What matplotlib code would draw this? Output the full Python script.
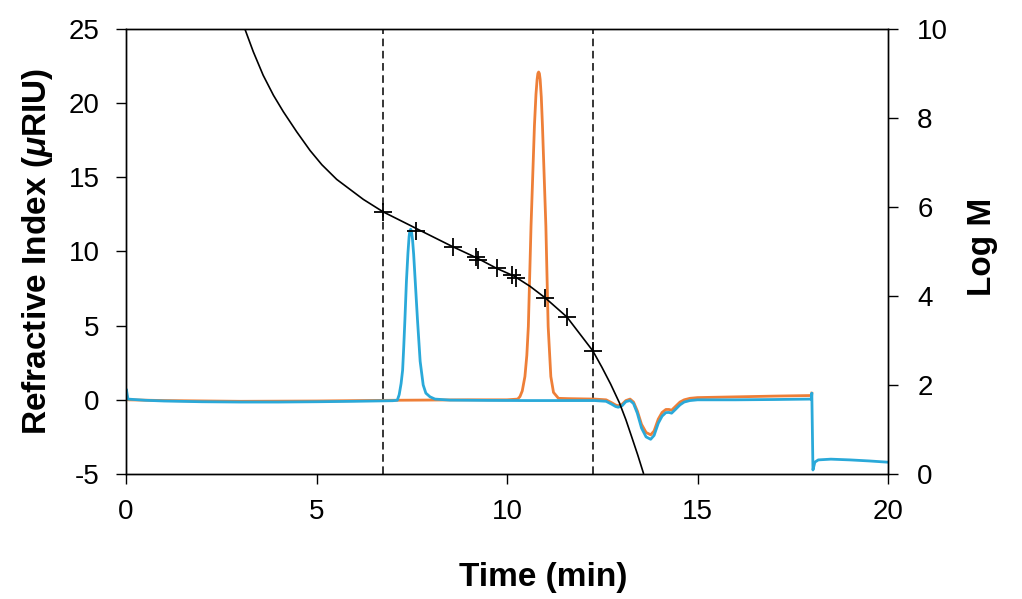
import numpy as np
import matplotlib
matplotlib.use("Agg")
import matplotlib.pyplot as plt

plt.rcParams['font.family'] = ['Liberation Sans', 'DejaVu Sans']
plt.rcParams['mathtext.fontset'] = 'custom'
plt.rcParams['mathtext.it'] = 'Liberation Sans:italic:bold'
plt.rcParams['mathtext.rm'] = 'Liberation Sans:bold'
plt.rcParams['axes.unicode_minus'] = False

# %% data

# RI trace, sample 1 (blue)
blue_t = [0.0, 0.01, 0.05, 0.5, 1.0, 2.0, 3.0, 4.0, 5.0, 6.0, 7.0, 7.12,
          7.17, 7.22, 7.26, 7.29, 7.32, 7.36, 7.40, 7.43, 7.45, 7.47, 7.49,
          7.52, 7.55, 7.60, 7.65, 7.72, 7.80, 7.87, 7.98, 8.11, 8.5, 9.5,
          10.5, 11.5, 12.3, 12.6, 12.75, 12.85, 12.92, 13.02, 13.12, 13.23,
          13.32, 13.42, 13.53, 13.65, 13.77, 13.86, 13.97, 14.07, 14.17,
          14.25, 14.32, 14.42, 14.54, 14.65, 14.8, 15.0, 16.0, 17.0, 17.99,
          18.0, 18.03, 18.08, 18.17, 18.5, 19.0, 19.5, 19.97]
blue_ri = [0.6, 0.7, 0.05, -0.03, -0.08, -0.13, -0.15, -0.15, -0.13, -0.1,
           -0.06, -0.03, 0.35, 1.1, 2.0, 3.6, 5.4, 8.0, 9.9, 11.0, 11.4, 11.5,
           11.4, 10.8, 9.8, 7.6, 5.4, 2.6, 1.0, 0.45, 0.2, 0.05, -0.02, -0.04,
           -0.05, -0.05, -0.05, -0.1, -0.3, -0.45, -0.5, -0.4, -0.12, -0.05,
           -0.25, -0.9, -1.9, -2.5, -2.66, -2.4, -1.58, -1.1, -0.86, -0.85,
           -0.9, -0.65, -0.34, -0.15, -0.05, 0.0, 0.0, 0.02, 0.05, 0.45,
           -4.73, -4.2, -4.05, -4.0, -4.05, -4.12, -4.2]

# RI trace, sample 2 (orange)
orange_t = [0.0, 0.05, 1.0, 3.0, 5.0, 7.0, 9.0, 10.0, 10.28, 10.34, 10.40,
            10.47, 10.52, 10.56, 10.63, 10.72, 10.76, 10.79, 10.81, 10.83,
            10.85, 10.87, 10.90, 10.93, 11.02, 11.08, 11.15, 11.22, 11.35,
            11.6, 12.3, 12.6, 12.75, 12.85, 12.92, 13.02, 13.12, 13.23, 13.32,
            13.42, 13.53, 13.65, 13.77, 13.86, 13.97, 14.07, 14.17, 14.25,
            14.32, 14.42, 14.54, 14.65, 14.8, 15.0, 16.0, 17.0, 17.99, 18.0]
orange_ri = [0.5, 0.0, -0.05, -0.1, -0.08, -0.03, 0.0, 0.0, 0.05, 0.22,
             0.6, 1.57, 3.0, 4.95, 11.7, 18.5, 20.6, 21.6, 22.0, 22.1, 22.0,
             21.6, 20.4, 18.5, 11.7, 4.95, 1.57, 0.5, 0.1, 0.08, 0.05, 0.0,
             -0.2, -0.35, -0.4, -0.3, -0.05, 0.05, -0.15, -0.75, -1.65, -2.2,
             -2.36, -2.1, -1.3, -0.85, -0.65, -0.65, -0.7, -0.45, -0.15, 0.0,
             0.1, 0.15, 0.2, 0.25, 0.29, 0.45]

# calibration standards (log M vs time)
cal_t = [6.75, 7.61, 8.57, 9.19, 9.25, 9.73, 10.12, 10.24, 11.0, 11.57, 12.25]
cal_logm = [5.89, 5.47, 5.11, 4.87, 4.82, 4.62, 4.48, 4.41, 3.96, 3.53, 2.77]

# calibration fit curve
fit_t = [3.12, 3.34, 3.60, 3.87, 4.13, 4.48, 4.83, 5.14, 5.53, 6.23, 6.75,
         7.45, 7.61, 8.57, 9.22, 9.73, 10.18, 10.6, 11.0, 11.57, 12.25, 12.49,
         12.72, 12.95, 13.12, 13.27, 13.43, 13.58]
fit_logm = [10.0, 9.49, 8.96, 8.51, 8.14, 7.69, 7.27, 6.95, 6.62, 6.17,
            5.89, 5.59, 5.52, 5.11, 4.85, 4.62, 4.45, 4.22, 3.96, 3.53, 2.77,
            2.40, 2.02, 1.60, 1.22, 0.84, 0.43, 0.02]

# calibration limits
cutoffs = [6.75, 12.25]

# %% plot

blue = "#2aa9d9"
orange = "#ee7f38"

fig = plt.figure(figsize=(10.22, 5.99), dpi=100)
ax = fig.add_axes([0.1233, 0.2087, 0.7456, 0.7429])
ax2 = ax.twinx()

for c in cutoffs:
    ax.axvline(c, color="black", lw=1.1, ls=(0, (5, 3)))

ax.plot(orange_t, orange_ri, color=orange, lw=2.0)
ax.plot(blue_t, blue_ri, color=blue, lw=2.0)

ax2.plot(fit_t, fit_logm, color="black", lw=1.2)
ax2.plot(cal_t, cal_logm, ls="none", marker="+", color="black",
         markersize=13, markeredgewidth=1.3)

ax.set_xlim(0, 20)
ax.set_ylim(-5, 25)
ax2.set_ylim(0, 10)
ax.set_xticks([0, 5, 10, 15, 20])
ax.set_yticks([-5, 0, 5, 10, 15, 20, 25])
ax2.set_yticks([0, 2, 4, 6, 8, 10])

for a in (ax, ax2):
    for s in a.spines.values():
        s.set_linewidth(1.0)

ax.tick_params(axis="x", direction="out", length=7, width=1.0, labelsize=20, pad=11)
ax.tick_params(axis="y", direction="out", length=7, width=1.0, labelsize=20, pad=12)
ax2.tick_params(axis="y", direction="out", length=7, width=1.0, labelsize=20, pad=14)

ax.set_xlabel("Time (min)", fontsize=24, fontweight="bold")
ax.xaxis.set_label_coords(0.547, -0.198)
ax.set_ylabel(r"Refractive Index ($\mu$RIU)", fontsize=24, fontweight="bold")
ax.yaxis.set_label_coords(-0.093, 0.5)
ax2.set_ylabel("Log M", fontsize=24, fontweight="bold")
ax2.yaxis.set_label_coords(1.104, 0.51)

fig.savefig("out.png", dpi=100)
